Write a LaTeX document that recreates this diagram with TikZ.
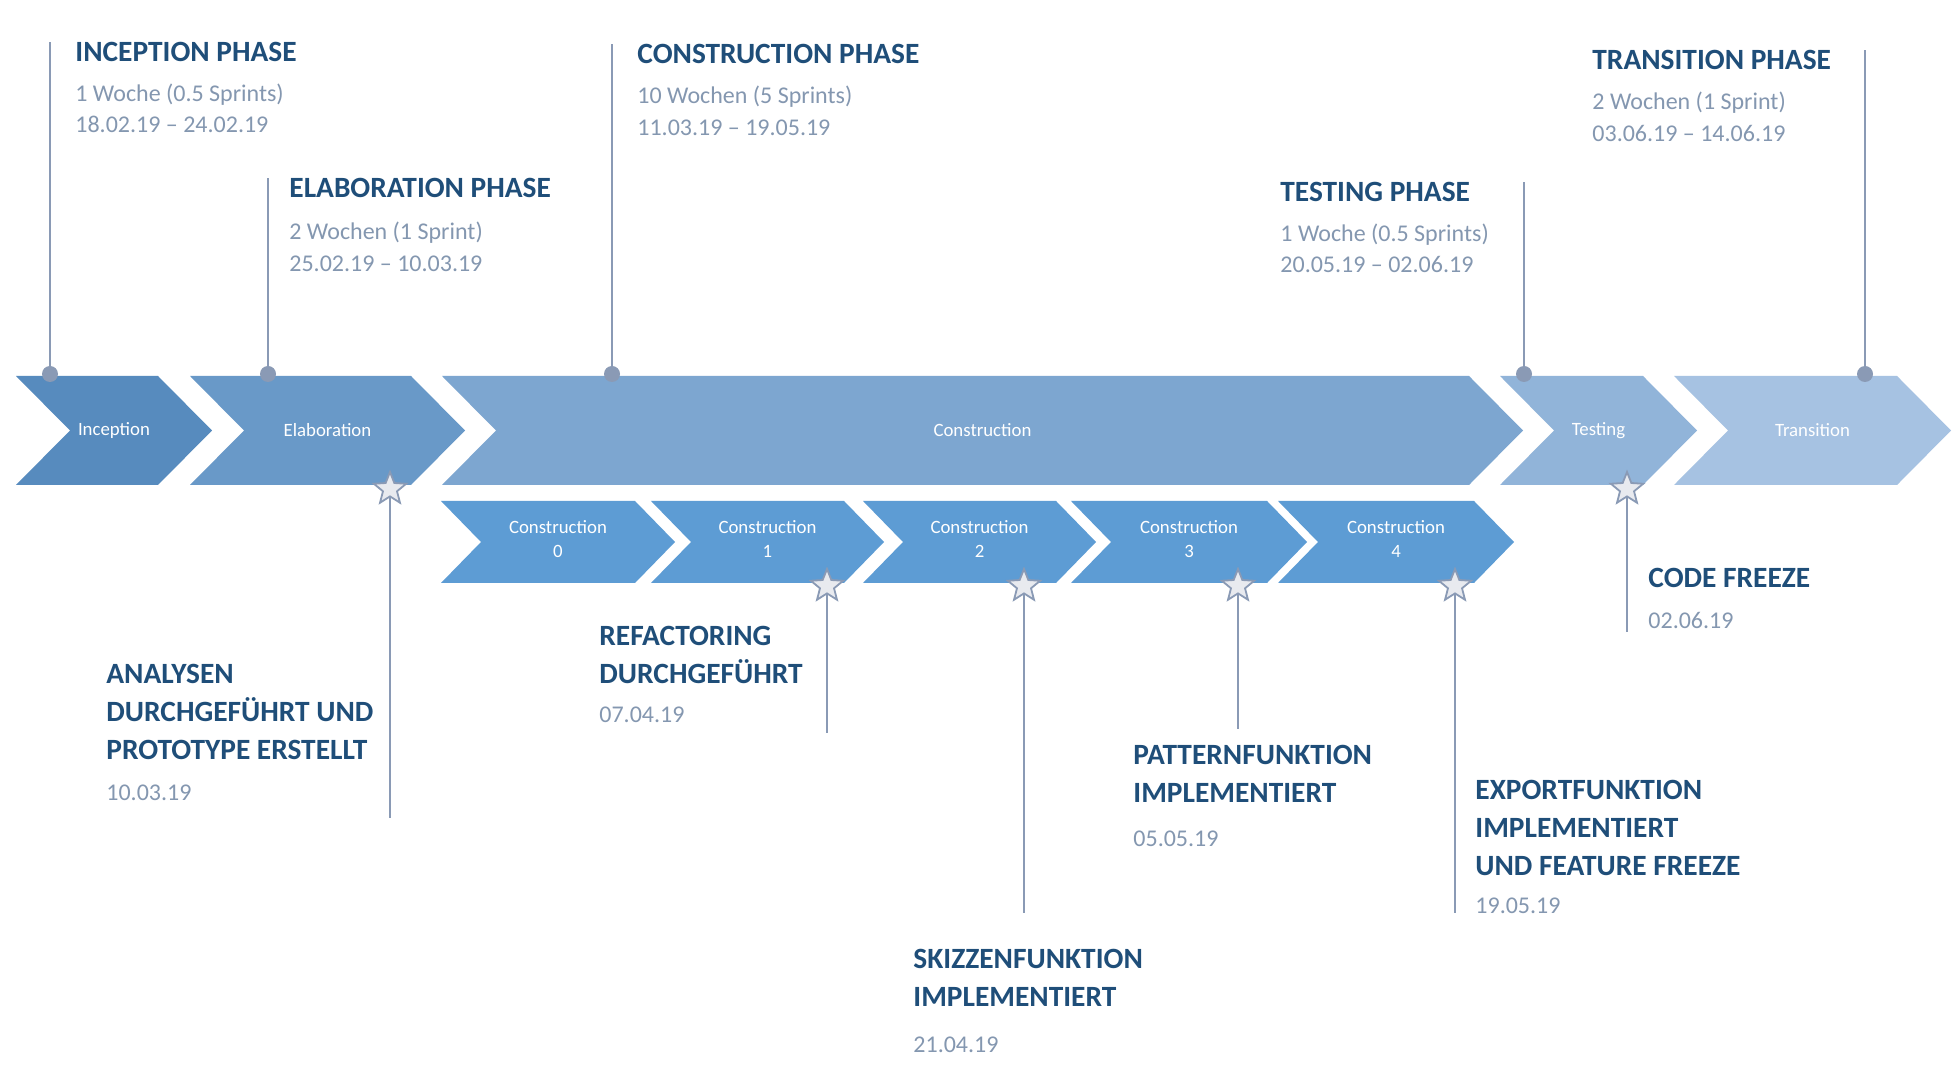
\documentclass[tikz,border=0pt]{standalone}
\usepackage{fontspec}
\setmainfont{Carlito}
\usepackage{tikz}
\usetikzlibrary{shapes.geometric, positioning}
\definecolor{titleblue}{RGB}{31, 78, 121}
\definecolor{infogray}{RGB}{132, 151, 176}
\definecolor{pingray}{RGB}{138, 154, 181}
\definecolor{inceptblue}{RGB}{87, 139, 190}
\definecolor{elabblue}{RGB}{105, 153, 200}
\definecolor{constblue}{RGB}{125, 166, 208}
\definecolor{testblue}{RGB}{145, 180, 217}
\definecolor{transblue}{RGB}{166, 194, 226}
\definecolor{sprintblue}{RGB}{93, 156, 212}
\definecolor{starfill}{RGB}{232, 234, 239}

\begin{document}
\begin{tikzpicture}[x=0.5pt, y=-0.5pt,
  phasetitle/.style={font=\fontsize{14.7}{19}\selectfont\bfseries, text=titleblue, anchor=base west, inner sep=0pt, align=left},
  phaseinfo/.style={font=\fontsize{12}{16}\selectfont, text=infogray, anchor=base west, inner sep=0pt},
  chevtext/.style={font=\fontsize{9.4}{12}\selectfont, text=white, align=center, inner sep=0pt},
  pinline/.style={draw=pingray, line width=1pt},
  pindot/.style={circle, fill=pingray, minimum size=8pt, inner sep=0pt},
  milestar/.style={star, star points=5, star point ratio=2.3, draw=pingray, fill=starfill, line width=0.9pt, minimum size=17pt, inner sep=0pt}]

  \fill[white] (0,0) rectangle (1958,1068);
  \useasboundingbox (0,0) rectangle (1958,1068);

  % Phases
  \fill[inceptblue] (16,376) -- (158,376) -- (212,430.5) -- (158,485) -- (16,485) -- (70,430.5) -- cycle;
  \node[chevtext] (inception) at (114,430.5) {Inception};

  \fill[elabblue] (190,376) -- (411,376) -- (465,430.5) -- (411,485) -- (190,485) -- (244,430.5) -- cycle;
  \node[chevtext] (elaboration) at (327.5,430.5) {Elaboration};

  \fill[constblue] (442,376) -- (1469,376) -- (1523,430.5) -- (1469,485) -- (442,485) -- (496,430.5) -- cycle;
  \node[chevtext] (construction) at (982.5,430.5) {Construction};

  \fill[testblue] (1500,376) -- (1643,376) -- (1697,430.5) -- (1643,485) -- (1500,485) -- (1554,430.5) -- cycle;
  \node[chevtext] (testing) at (1598.5,430.5) {Testing};

  \fill[transblue] (1674,376) -- (1897,376) -- (1951,430.5) -- (1897,485) -- (1674,485) -- (1728,430.5) -- cycle;
  \node[chevtext] (transition) at (1812.5,430.5) {Transition};

  % Sprints
  \fill[sprintblue] (441,501) -- (635,501) -- (675,542) -- (635,583) -- (441,583) -- (481,542) -- cycle;
  \node[chevtext] (sprint0) at (558,539) {Construction\\0};

  \fill[sprintblue] (651,501) -- (844,501) -- (884,542) -- (844,583) -- (651,583) -- (691,542) -- cycle;
  \node[chevtext] (sprint1) at (767.5,539) {Construction\\1};

  \fill[sprintblue] (863,501) -- (1056,501) -- (1096,542) -- (1056,583) -- (863,583) -- (903,542) -- cycle;
  \node[chevtext] (sprint2) at (979.5,539) {Construction\\2};

  \fill[sprintblue] (1071,501) -- (1267,501) -- (1307,542) -- (1267,583) -- (1071,583) -- (1111,542) -- cycle;
  \node[chevtext] (sprint3) at (1189,539) {Construction\\3};

  \fill[sprintblue] (1278,501) -- (1474,501) -- (1514,542) -- (1474,583) -- (1278,583) -- (1318,542) -- cycle;
  \node[chevtext] (sprint4) at (1396,539) {Construction\\4};

  % Phase pins
  \node[phasetitle] (inc-title) at (75,62) {INCEPTION PHASE};
  \node[phaseinfo] (inc-weeks) at (75,102) {1 Woche (0.5 Sprints)};
  \node[phaseinfo] (inc-dates) at (75,133) {18.02.19 – 24.02.19};
  \coordinate (inc-pin) at (50,374);
  \draw[pinline] (inc-pin) -- (inc-pin |- inc-title.north);
  \node[pindot] (inc-dot) at (inc-pin) {};

  \node[phasetitle] (elab-title) at (289,198) {ELABORATION PHASE};
  \node[phaseinfo] (elab-weeks) at (289,240) {2 Wochen (1 Sprint)};
  \node[phaseinfo] (elab-dates) at (289,272) {25.02.19 – 10.03.19};
  \coordinate (elab-pin) at (268,374);
  \draw[pinline] (elab-pin) -- (elab-pin |- elab-title.north);
  \node[pindot] (elab-dot) at (elab-pin) {};

  \node[phasetitle] (const-title) at (637,64) {CONSTRUCTION PHASE};
  \node[phaseinfo] (const-weeks) at (637,104) {10 Wochen (5 Sprints)};
  \node[phaseinfo] (const-dates) at (637,136) {11.03.19 – 19.05.19};
  \coordinate (const-pin) at (612,374);
  \draw[pinline] (const-pin) -- (const-pin |- const-title.north);
  \node[pindot] (const-dot) at (const-pin) {};

  \node[phasetitle] (test-title) at (1280,202) {TESTING PHASE};
  \node[phaseinfo] (test-weeks) at (1280,242) {1 Woche (0.5 Sprints)};
  \node[phaseinfo] (test-dates) at (1280,273) {20.05.19 – 02.06.19};
  \coordinate (test-pin) at (1524,374);
  \draw[pinline] (test-pin) -- (test-pin |- test-title.north);
  \node[pindot] (test-dot) at (test-pin) {};

  \node[phasetitle] (trans-title) at (1592,70) {TRANSITION PHASE};
  \node[phaseinfo] (trans-weeks) at (1592,110) {2 Wochen (1 Sprint)};
  \node[phaseinfo] (trans-dates) at (1592,142) {03.06.19 – 14.06.19};
  \coordinate (trans-pin) at (1865,374);
  \draw[pinline] (trans-pin) -- (trans-pin |- trans-title.north);
  \node[pindot] (trans-dot) at (trans-pin) {};

  % Milestones
  \node[milestar] (elab-star) at (390,489) {};
  \coordinate (elab-end) at (390,818);
  \draw[pinline] (elab-star.south) -- (elab-end);
  \node[phasetitle] (elab-ms) at (106,759) {ANALYSEN\\DURCHGEFÜHRT UND\\PROTOTYPE ERSTELLT};
  \node[phaseinfo] (elab-ms-date) at (106,800) {10.03.19};

  \node[milestar] (sprint1-star) at (827,586) {};
  \coordinate (sprint1-end) at (827,733);
  \draw[pinline] (sprint1-star.south) -- (sprint1-end);
  \node[phasetitle] (sprint1-ms) at (599,683) {REFACTORING\\DURCHGEFÜHRT};
  \node[phaseinfo] (sprint1-ms-date) at (599,722) {07.04.19};

  \node[milestar] (sprint2-star) at (1024,586) {};
  \coordinate (sprint2-end) at (1024,913);
  \draw[pinline] (sprint2-star.south) -- (sprint2-end);
  \node[phasetitle] (sprint2-ms) at (913,1006) {SKIZZENFUNKTION\\IMPLEMENTIERT};
  \node[phaseinfo] (sprint2-ms-date) at (913,1052) {21.04.19};

  \node[milestar] (sprint3-star) at (1238,586) {};
  \coordinate (sprint3-end) at (1238,729);
  \draw[pinline] (sprint3-star.south) -- (sprint3-end);
  \node[phasetitle] (sprint3-ms) at (1133,802) {PATTERNFUNKTION\\IMPLEMENTIERT};
  \node[phaseinfo] (sprint3-ms-date) at (1133,846) {05.05.19};

  \node[milestar] (sprint4-star) at (1455,586) {};
  \coordinate (sprint4-end) at (1455,913);
  \draw[pinline] (sprint4-star.south) -- (sprint4-end);
  \node[phasetitle] (sprint4-ms) at (1475,875) {EXPORTFUNKTION\\IMPLEMENTIERT\\UND FEATURE FREEZE};
  \node[phaseinfo] (sprint4-ms-date) at (1475,913) {19.05.19};

  \node[milestar] (test-star) at (1627,489) {};
  \coordinate (test-end) at (1627,632);
  \draw[pinline] (test-star.south) -- (test-end);
  \node[phasetitle] (test-ms) at (1648,588) {CODE FREEZE};
  \node[phaseinfo] (test-ms-date) at (1648,629) {02.06.19};
\end{tikzpicture}
\end{document}
